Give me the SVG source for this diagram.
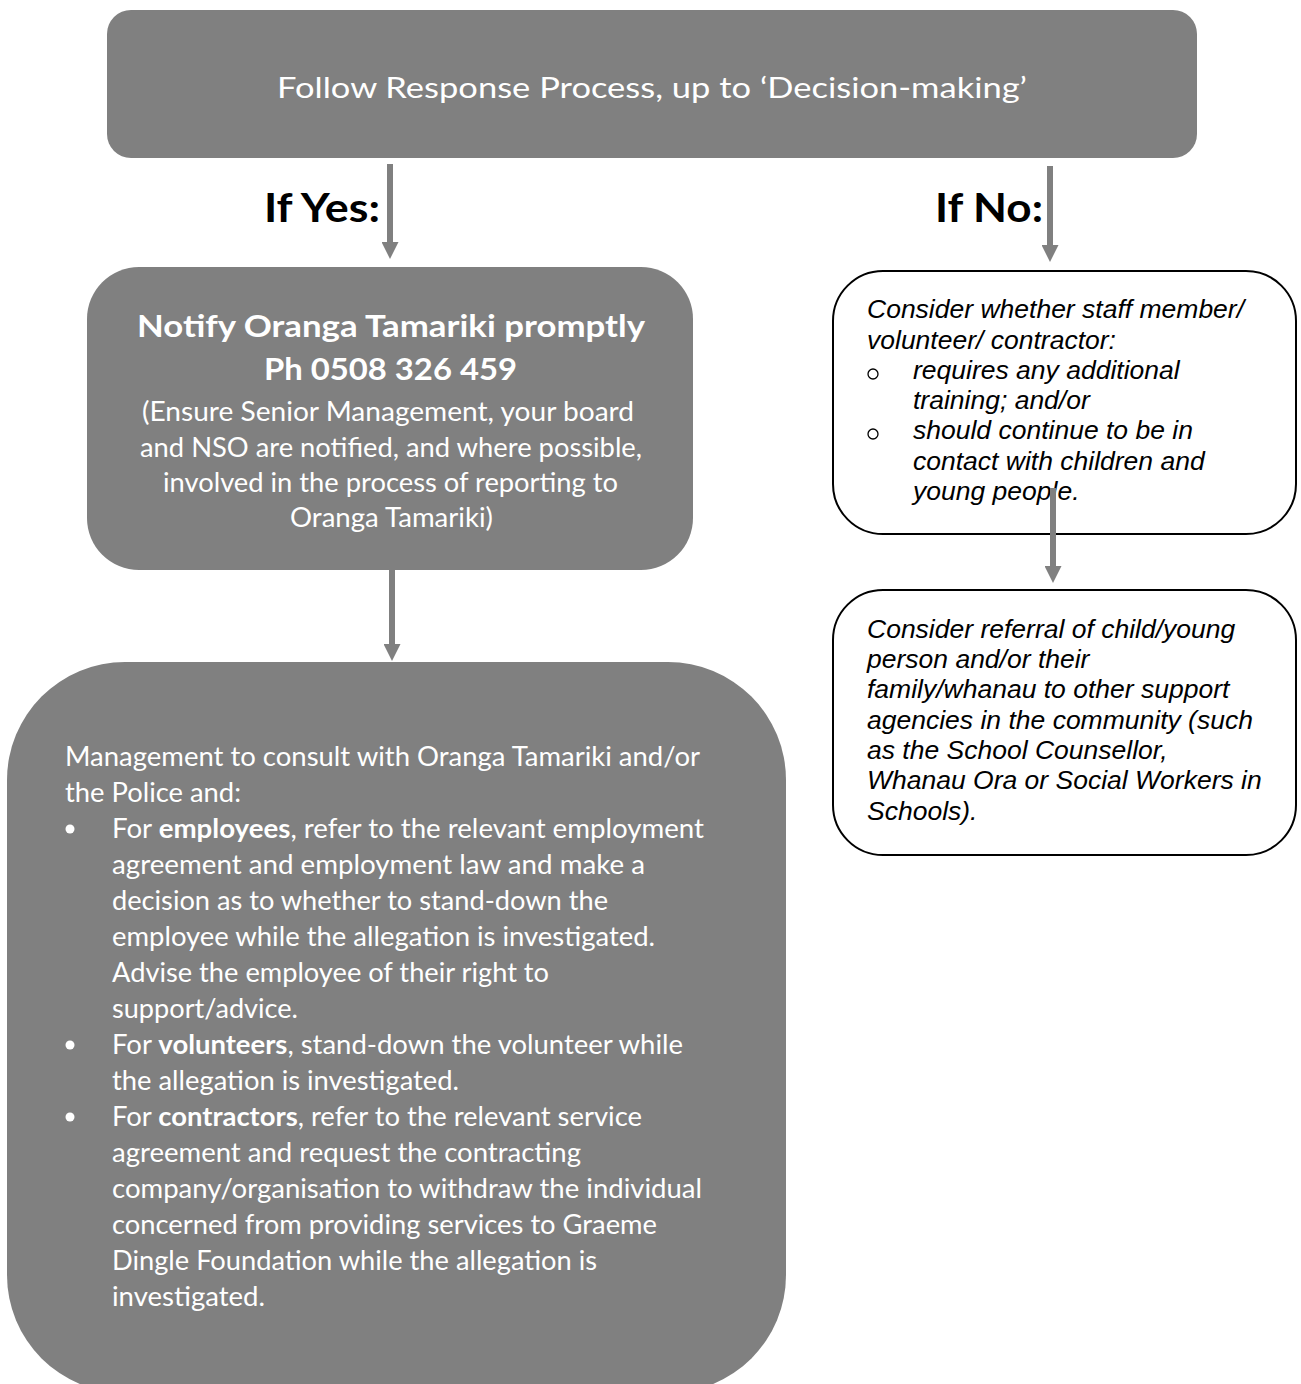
<svg xmlns="http://www.w3.org/2000/svg" width="1301" height="1384" viewBox="0 0 1301 1384">
<defs>
<style>
.gbox{fill:#808080;}
.wbox{fill:#ffffff;stroke:#000000;stroke-width:2;}
.cal{font-family:Lato,"Open Sans","Liberation Sans",sans-serif;fill:#ffffff;}
.ari{font-family:"Liberation Sans",Arial,sans-serif;font-style:italic;font-size:26.5px;fill:#000000;}
.lbl{font-family:Lato,"Open Sans","Liberation Sans",sans-serif;font-weight:bold;font-size:41px;fill:#000000;}
.b{font-weight:bold;}
.conn{stroke:#808080;stroke-width:6;fill:none;}
.dot{fill:#ffffff;}
.odot{fill:none;stroke:#000000;stroke-width:1.3;}
</style>
<marker id="ah" markerUnits="userSpaceOnUse" viewBox="0 0 17 17" refX="0" refY="8.5" markerWidth="17" markerHeight="17" orient="auto">
<path d="M0,0 L17,8.5 L0,17 Z" fill="#808080"/>
</marker>
</defs>
<rect width="1301" height="1384" fill="#ffffff"/>

<g id="start">
<rect class="gbox" x="107" y="10" width="1090" height="148" rx="24" ry="24"/>
<text class="cal" x="277" y="98" font-size="29.5" textLength="750" lengthAdjust="spacingAndGlyphs">Follow Response Process, up to ‘Decision-making’</text>
</g>

<g id="label-yes">
<text class="lbl" x="264" y="222" textLength="116" lengthAdjust="spacingAndGlyphs">If Yes:</text>
</g>
<g id="label-no">
<text class="lbl" x="935" y="222" textLength="108" lengthAdjust="spacingAndGlyphs">If No:</text>
</g>

<g id="notify">
<rect class="gbox" x="87" y="267" width="606" height="303" rx="52" ry="52"/>
<text class="cal b" x="137" y="337" font-size="31" textLength="508" lengthAdjust="spacingAndGlyphs">Notify Oranga Tamariki promptly</text>
<text class="cal b" x="264" y="380" font-size="31" textLength="253" lengthAdjust="spacingAndGlyphs">Ph 0508 326 459</text>
<text class="cal" x="142" y="421" font-size="27" textLength="492" lengthAdjust="spacingAndGlyphs">(Ensure Senior Management, your board</text>
<text class="cal" x="140" y="457" font-size="27" textLength="502" lengthAdjust="spacingAndGlyphs">and NSO are notified, and where possible,</text>
<text class="cal" x="163" y="492" font-size="27" textLength="455" lengthAdjust="spacingAndGlyphs">involved in the process of reporting to</text>
<text class="cal" x="290" y="527" font-size="27" textLength="203" lengthAdjust="spacingAndGlyphs">Oranga Tamariki)</text>
</g>

<g id="manage">
<rect class="gbox" x="7" y="662" width="779" height="731" rx="118" ry="118"/>
<g font-size="26">
<text class="cal" x="65" y="766" textLength="635" lengthAdjust="spacingAndGlyphs">Management to consult with Oranga Tamariki and/or</text>
<text class="cal" x="65" y="802" textLength="176" lengthAdjust="spacingAndGlyphs">the Police and:</text>
<circle class="dot" cx="70" cy="829" r="4.5"/>
<text class="cal" x="112" y="838" textLength="592" lengthAdjust="spacingAndGlyphs">For <tspan class="b">employees</tspan>, refer to the relevant employment</text>
<text class="cal" x="112" y="874" textLength="533" lengthAdjust="spacingAndGlyphs">agreement and employment law and make a</text>
<text class="cal" x="112" y="910" textLength="496" lengthAdjust="spacingAndGlyphs">decision as to whether to stand-down the</text>
<text class="cal" x="112" y="946" textLength="543" lengthAdjust="spacingAndGlyphs">employee while the allegation is investigated.</text>
<text class="cal" x="112" y="982" textLength="437" lengthAdjust="spacingAndGlyphs">Advise the employee of their right to</text>
<text class="cal" x="112" y="1018" textLength="186" lengthAdjust="spacingAndGlyphs">support/advice.</text>
<circle class="dot" cx="70" cy="1045" r="4.5"/>
<text class="cal" x="112" y="1054" textLength="571" lengthAdjust="spacingAndGlyphs">For <tspan class="b">volunteers</tspan>, stand-down the volunteer while</text>
<text class="cal" x="112" y="1090" textLength="347" lengthAdjust="spacingAndGlyphs">the allegation is investigated.</text>
<circle class="dot" cx="70" cy="1117" r="4.5"/>
<text class="cal" x="112" y="1126" textLength="530" lengthAdjust="spacingAndGlyphs">For <tspan class="b">contractors</tspan>, refer to the relevant service</text>
<text class="cal" x="112" y="1162" textLength="469" lengthAdjust="spacingAndGlyphs">agreement and request the contracting</text>
<text class="cal" x="112" y="1198" textLength="590" lengthAdjust="spacingAndGlyphs">company/organisation to withdraw the individual</text>
<text class="cal" x="112" y="1234" textLength="545" lengthAdjust="spacingAndGlyphs">concerned from providing services to Graeme</text>
<text class="cal" x="112" y="1270" textLength="485" lengthAdjust="spacingAndGlyphs">Dingle Foundation while the allegation is</text>
<text class="cal" x="112" y="1306" textLength="153" lengthAdjust="spacingAndGlyphs">investigated.</text>
</g>
</g>

<g id="consider">
<rect class="wbox" x="833" y="271" width="463" height="263" rx="50" ry="50"/>
<text class="ari" x="867" y="318">Consider whether staff member/</text>
<text class="ari" x="867" y="349">volunteer/ contractor:</text>
<circle class="odot" cx="873" cy="374" r="5"/>
<text class="ari" x="913" y="379">requires any additional</text>
<text class="ari" x="913" y="409">training; and/or</text>
<circle class="odot" cx="873" cy="434" r="5"/>
<text class="ari" x="913" y="439">should continue to be in</text>
<text class="ari" x="913" y="470">contact with children and</text>
<text class="ari" x="913" y="500">young people.</text>
</g>

<g id="referral">
<rect class="wbox" x="833" y="590" width="463" height="265" rx="50" ry="50"/>
<text class="ari" x="867" y="638">Consider referral of child/young</text>
<text class="ari" x="867" y="668">person and/or their</text>
<text class="ari" x="867" y="698">family/whanau to other support</text>
<text class="ari" x="867" y="729">agencies in the community (such</text>
<text class="ari" x="867" y="759">as the School Counsellor,</text>
<text class="ari" x="867" y="789">Whanau Ora or Social Workers in</text>
<text class="ari" x="867" y="820">Schools).</text>
</g>

<g id="connectors">
<line class="conn" x1="390" y1="164" x2="390" y2="242" marker-end="url(#ah)"/>
<line class="conn" x1="1050" y1="166" x2="1050" y2="245" marker-end="url(#ah)"/>
<line class="conn" x1="392" y1="570" x2="392" y2="644" marker-end="url(#ah)"/>
<line class="conn" x1="1053" y1="488" x2="1053" y2="566" marker-end="url(#ah)"/>
</g>
</svg>
